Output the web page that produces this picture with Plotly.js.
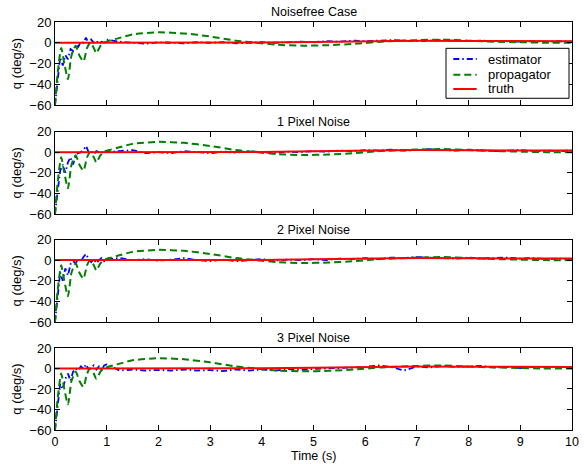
<!DOCTYPE html>
<html>
<head>
<meta charset="utf-8">
<script src="https://cdn.plot.ly/plotly-3.0.1.min.js"></script>
<style>html,body{margin:0;padding:0;background:#fff;}#chart{width:584px;height:464px;}</style>
</head>
<body>
<div id="chart"></div>
<script>
// ---- data ----
const panelTitles = ["Noisefree Case", "1 Pixel Noise", "2 Pixel Noise", "3 Pixel Noise"];
const seriesNames = ["estimator", "propagator", "truth"];
const xTicks = [0,1,2,3,4,5,6,7,8,9,10];
const yTicks = [-60,-40,-20,0,20];

// estimator time grid
const tEst = [0,0.05,0.1,0.15,0.2,0.25,0.3,0.35,0.4,0.45,0.5,0.55,0.6,0.65,0.7,0.75,0.8,0.85,0.9,0.95,1.0,
  1.25,1.5,1.75,2,2.25,2.5,2.75,3,3.25,3.5,3.75,4,4.25,4.5,4.75,5,5.25,5.5,5.75,6,6.25,6.5,6.75,7,7.25,7.5,7.75,8,8.25,8.5,8.75,9,9.25,9.5,9.75,10];

const est0 = [-60,-35,-14,-22,-12,-16,-6,-8,-2,-4,1,0,5,-1,3,0,2,-1,1,0,3,
  1,0,-1,0.5,0,-0.5,0.5,0,0.5,-0.5,0,0.5,0,0.5,1,0.5,1.5,1,2,1.5,2,2.5,2,1.5,2,2.5,2,1.5,2,1.5,1.5,1,1.5,1,1.5,1];
const est1 = [-60,-40,-18,-12,-20,-10,-5,-12,-3,-1,0,2,6,0,1,-2,1,0,-1,2,0,
  1,2,-1,0,-1,1,0,-1,0.5,-0.5,1,0,-1,0.5,0,1,0.5,1.5,1,2,1.5,2.5,1.5,2,3,2,1.5,2.5,2,1,1.5,2,1,1.5,1,1.5];
const est2 = [-60,-38,-12,-20,-8,-15,-4,-1,-3,1,-1,3,6,1,-2,1,-3,0,2,-1,1,
  2,0,1,-0.5,0.5,2,0,-1,0.5,-1,0,1,-0.5,0.5,0,1,0,1.5,1,2,1,2.5,2,3,2.5,2,1.5,2.5,1.5,2,2.5,1.5,2,1,1.5,1];
const est3 = [-60,-35,-15,-20,-10,-5,-12,-3,0,-2,2,0,4,-1,1,3,-1,2,-2,3,4,
  -2,-1,-2,-1.5,-2,-1,-2,-1.5,-2.5,-1,-2,-1,-2,-0.5,-1.5,-0.5,0,0.5,1,1.5,3,1.5,-2,2,1,2.5,1.5,2,2.5,1,1.5,0.5,1.5,1,1.5,1];
const estimator = [est0, est1, est2, est3];

// propagator (same in all panels)
const tProp = [0,0.05,0.12,0.18,0.25,0.32,0.4,0.47,0.55,0.62,0.68,0.75,0.8,0.88,0.95,1.05,1.2,1.5,2.0,2.5,3.0,3.5,3.9,4.3,4.8,5.3,5.8,6.3,7.0,7.5,8.0,8.5,9.0,9.5,10];
const propagator = [-60,-30,-5,-20,-35,-12,-3,-12,-18,-5,0,-5,-10,-3,0,2,4,8,10,9,6,2,0,-2,-2.8,-2.3,-1,1,2.5,3,2,1,0.5,0,0];

// truth (same in all panels)
const tTruth = [0,1,2,3,3.5,4,5,6,7,8,9,10];
const truth = [0,0,0,0,0,0.2,0.8,1.6,2,1.8,1.6,1.5];

// ---- styles ----
const styles = [
  {color:'rgb(0,0,255)', width:1.8, dash:'6px,3px,1.5px,3px'},
  {color:'rgb(0,128,0)', width:2, dash:'7px,4px'},
  {color:'rgb(255,0,0)', width:2, dash:'solid'}
];

// ---- build ----
const domains = [[0.7966,1],[0.5294,0.7316],[0.2647,0.4669],[0,0.201]];
const traces = [];
const layout = {
  width:584, height:464,
  margin:{l:55,r:12,t:22,b:34},
  paper_bgcolor:'#fff', plot_bgcolor:'#fff',
  font:{family:'"Liberation Sans", Arial, sans-serif', size:12, color:'#000'},
  showlegend:false,
  annotations:[], shapes:[]
};
for (let i=0;i<4;i++){
  const xa = i===0 ? 'x' : 'x'+(i+1);
  const ya = i===0 ? 'y' : 'y'+(i+1);
  traces.push({x:tEst, y:estimator[i], xaxis:xa, yaxis:ya, type:'scatter', mode:'lines', name:seriesNames[0],
    line:Object.assign({}, styles[0])});
  traces.push({x:tProp, y:propagator, xaxis:xa, yaxis:ya, type:'scatter', mode:'lines', name:seriesNames[1],
    line:Object.assign({shape:'spline', smoothing:0.6}, styles[1])});
  traces.push({x:tTruth, y:truth, xaxis:xa, yaxis:ya, type:'scatter', mode:'lines', name:seriesNames[2],
    line:Object.assign({}, styles[2])});
  const axX = {
    domain:[0,1], range:[0,10], tickvals:xTicks, ticks:'inside', ticklen:5, tickcolor:'#000',
    showline:true, linecolor:'#000', linewidth:1, mirror:'ticks', showgrid:false, zeroline:false,
    anchor:ya, showticklabels:i===3, tickfont:{size:12.5}
  };
  const axY = {
    domain:domains[i], range:[-60,20], tickvals:yTicks, ticks:'inside', ticklen:5, tickcolor:'#000',
    showline:true, linecolor:'#000', linewidth:1, mirror:'ticks', showgrid:false, zeroline:false,
    anchor:xa, tickfont:{size:13}, title:{text:'q (deg/s)', font:{size:13}, standoff:4}
  };
  layout[i===0?'xaxis':'xaxis'+(i+1)] = axX;
  layout[i===0?'yaxis':'yaxis'+(i+1)] = axY;
  layout.annotations.push({text:panelTitles[i], xref:'paper', yref:'paper', x:0.5, y:domains[i][1],
    xanchor:'center', yanchor:'bottom', yshift:1, showarrow:false, font:{size:12.5}});
}
// x-axis title under the bottom panel
layout.annotations.push({text:'Time (s)', xref:'paper', yref:'paper', x:0.5, y:0, xanchor:'center',
  yanchor:'top', yshift:-18, borderpad:0, showarrow:false, font:{size:12.5}});

// legend box (top panel, upper right)
const lg = {x0:0.7563, x1:0.9942, y0:0.8130, y1:0.9355, lx0:0.7704, lx1:0.8156, tx:0.8331, rows:[0.9093,0.8708,0.8358]};
layout.shapes.push({type:'rect', xref:'paper', yref:'paper', x0:lg.x0, x1:lg.x1, y0:lg.y0, y1:lg.y1,
  line:{color:'#000', width:1}, fillcolor:'#fff', layer:'above'});
for (let k=0;k<3;k++){
  layout.shapes.push({type:'line', xref:'paper', yref:'paper', x0:lg.lx0, x1:lg.lx1, y0:lg.rows[k], y1:lg.rows[k],
    line:{color:styles[k].color, width:styles[k].width, dash:styles[k].dash}, layer:'above'});
  layout.annotations.push({text:seriesNames[k], xref:'paper', yref:'paper', x:lg.tx, y:lg.rows[k],
    xanchor:'left', yanchor:'middle', showarrow:false, font:{size:13}});
}
Plotly.newPlot('chart', traces, layout, {staticPlot:true, displayModeBar:false});
</script>
</body>
</html>
